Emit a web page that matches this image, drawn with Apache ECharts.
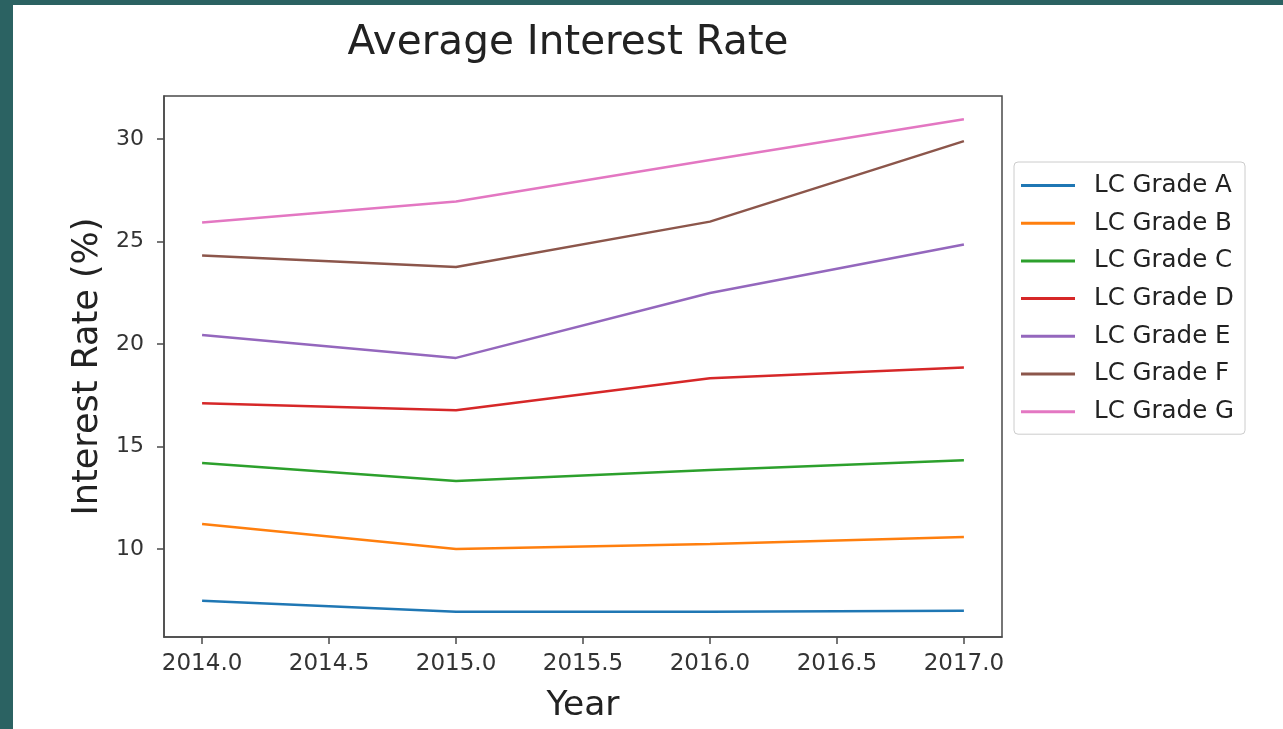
<!DOCTYPE html>
<html>
<head>
<meta charset="utf-8">
<script src="https://cdn.jsdelivr.net/npm/echarts@6/dist/echarts.min.js"></script>
<style>
  html, body { margin: 0; padding: 0; width: 1283px; height: 729px; background: #2b6262; overflow: hidden; }
  #chart { position: absolute; left: 13px; top: 5px; width: 1270px; height: 724px; background: #ffffff; }
</style>
</head>
<body>
<div id="chart"></div>
<script>
const years = [2014, 2015, 2016, 2017];
const gradeNames = ['LC Grade A', 'LC Grade B', 'LC Grade C', 'LC Grade D', 'LC Grade E', 'LC Grade F', 'LC Grade G'];
const gradeA = [7.47, 6.93, 6.93, 6.98];
const gradeB = [11.22, 10.0, 10.24, 10.58];
const gradeC = [14.19, 13.31, 13.85, 14.32];
const gradeD = [17.11, 16.77, 18.33, 18.85];
const gradeE = [20.44, 19.32, 22.49, 24.85];
const gradeF = [24.32, 23.76, 25.97, 29.90];
const gradeG = [25.93, 26.95, 28.98, 30.97];
const xTicks = [2014.0, 2014.5, 2015.0, 2015.5, 2016.0, 2016.5, 2017.0];
const yTicks = [10, 15, 20, 25, 30];
const colors = ['#1f77b4', '#ff7f0e', '#2ca02c', '#d62728', '#9467bd', '#8c564b', '#e377c2'];

const allGrades = [gradeA, gradeB, gradeC, gradeD, gradeE, gradeF, gradeG];
const FONT = 'DejaVu Sans';

const chart = echarts.init(document.getElementById('chart'), null, { renderer: 'canvas' });
chart.setOption({
  animation: false,
  backgroundColor: '#ffffff',
  color: colors,
  title: {
    text: 'Average Interest Rate',
    left: 550,
    top: 13,
    textAlign: 'center',
    textStyle: { fontFamily: FONT, fontSize: 40.5, fontWeight: 'normal', color: '#222' }
  },
  legend: {
    orient: 'vertical',
    left: 1001,
    top: 157,
    padding: [11, 11, 10, 7],
    itemWidth: 54,
    itemHeight: 3,
    itemGap: 12.7,
    icon: 'rect',
    borderColor: '#cccccc',
    borderWidth: 1,
    borderRadius: 4,
    backgroundColor: '#ffffff',
    textStyle: { fontFamily: FONT, fontSize: 24.5, color: '#222', lineHeight: 24, padding: [0, 0, 0, 14] },
    data: gradeNames
  },
  grid: {
    left: 151, right: 281, top: 91, bottom: 91,
    show: true, borderColor: '#4a4a4a', borderWidth: 1.5, backgroundColor: 'transparent'
  },
  xAxis: {
    type: 'value',
    min: 2013.85, max: 2017.15,
    name: 'Year',
    nameLocation: 'middle',
    nameGap: 52,
    nameTextStyle: { fontFamily: FONT, fontSize: 34.5, color: '#222' },
    axisLine: { show: true, lineStyle: { color: '#4a4a4a', width: 1.5 } },
    axisTick: { show: true, length: 7, customValues: xTicks, lineStyle: { color: '#4a4a4a', width: 1.5 } },
    axisLabel: { customValues: xTicks, margin: 16, fontFamily: FONT, fontSize: 23, color: '#333',
      formatter: v => v.toFixed(1) },
    splitLine: { show: false }
  },
  yAxis: {
    type: 'value',
    min: 5.7, max: 32.1,
    name: 'Interest Rate (%)',
    nameLocation: 'middle',
    nameGap: 58,
    nameTextStyle: { fontFamily: FONT, fontSize: 35, color: '#222' },
    axisLine: { show: true, lineStyle: { color: '#4a4a4a', width: 1.5 } },
    axisTick: { show: true, length: 7, customValues: yTicks, lineStyle: { color: '#4a4a4a', width: 1.5 } },
    axisLabel: { customValues: yTicks, margin: 20, fontFamily: FONT, fontSize: 22, color: '#333' },
    splitLine: { show: false }
  },
  series: allGrades.map((vals, i) => ({
    name: gradeNames[i],
    type: 'line',
    symbol: 'none',
    lineStyle: { width: 2.5, color: colors[i] },
    itemStyle: { color: colors[i] },
    data: years.map((y, j) => [y, vals[j]])
  }))
});
</script>
</body>
</html>
